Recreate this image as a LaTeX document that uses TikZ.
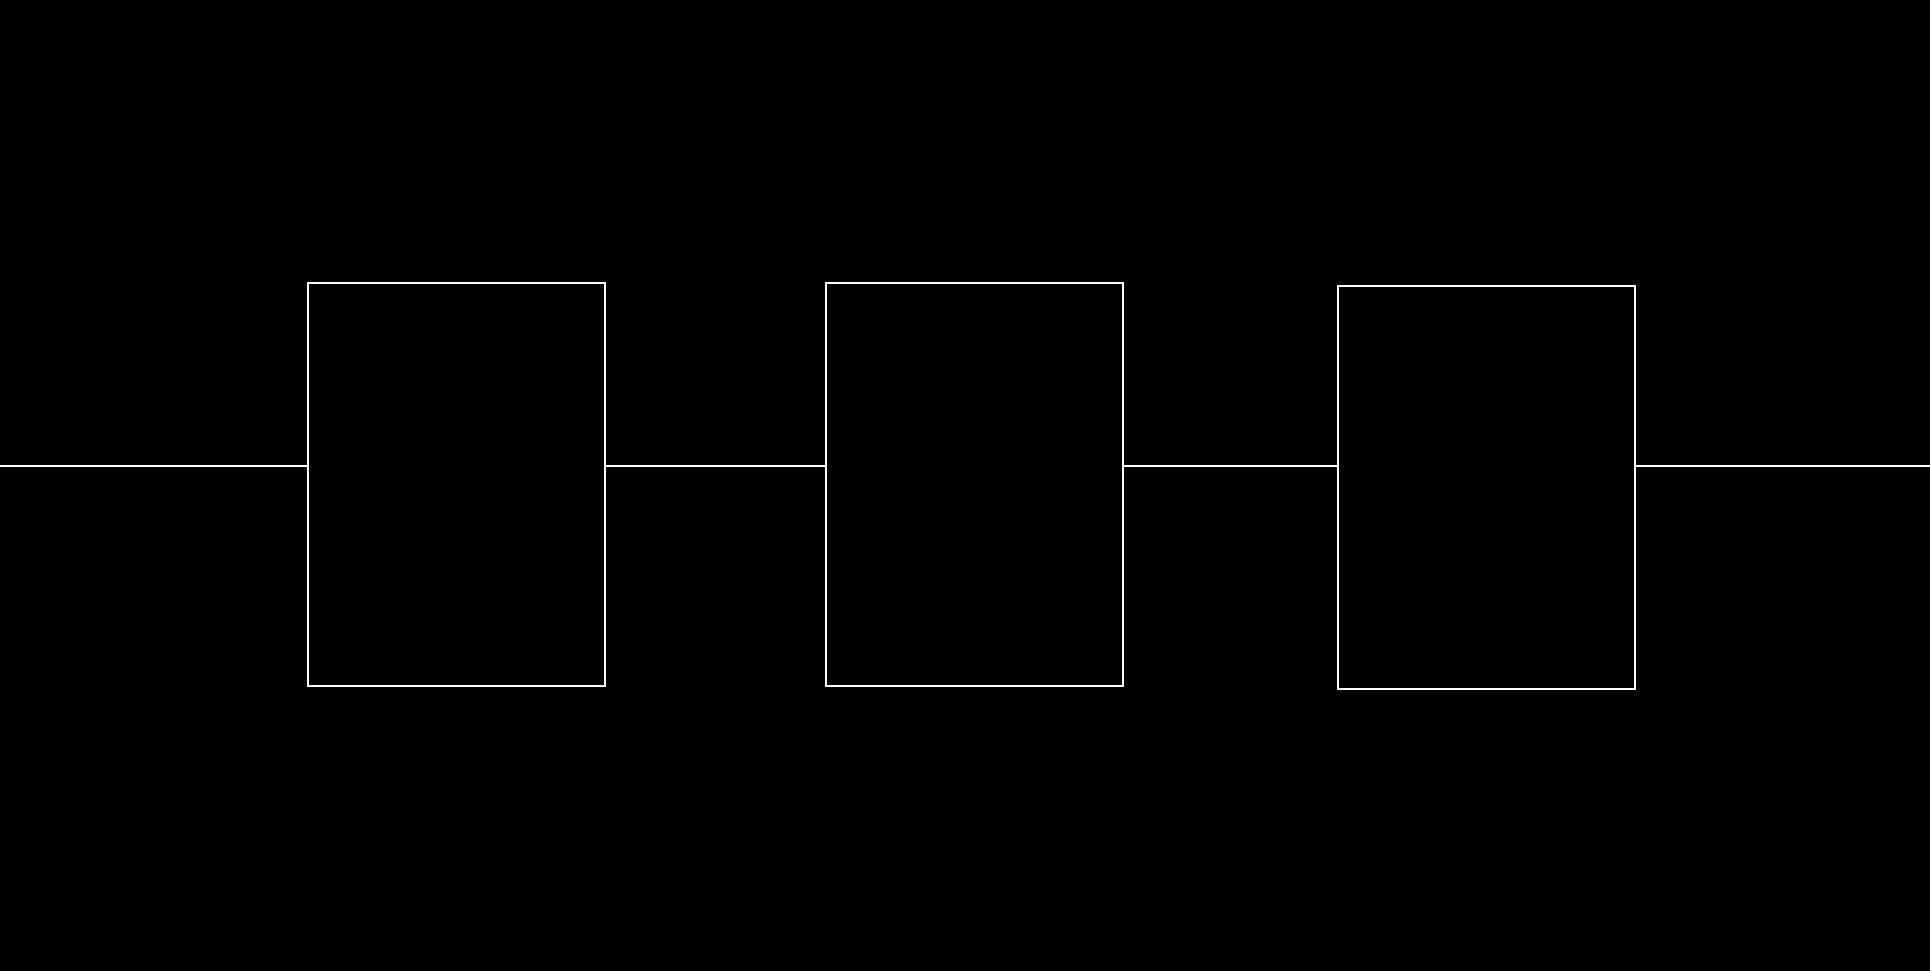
\documentclass[tikz,border=0pt]{standalone}
\usetikzlibrary{positioning,calc}

\begin{document}
\begin{tikzpicture}[
    stage/.style={draw=white, fill=black, line width=0.04cm, minimum width=5.95cm, minimum height=8.06cm, inner sep=0pt},
    wire/.style={draw=white, line width=0.04cm}
  ]
    % Fundo
    \useasboundingbox (0,0) rectangle (38.6,19.4);
    \fill[black] (-0.2,-0.2) rectangle (38.8,19.6);

    % Blocos
    \node[stage] (stageA) at (9.13,9.71) {};
    \node[stage] (stageB) at (19.49,9.71) {};
    \node[stage] (stageC) at (29.73,9.65) {};

    % Extremidades livres
    \coordinate (inPort) at (0,10.07);
    \coordinate (outPort) at (38.6,10.07);

    % Conectores
    \draw[wire] (inPort) -- (inPort -| stageA.west);
    \draw[wire] (stageA.east |- inPort) -- (stageB.west |- inPort);
    \draw[wire] (stageB.east |- inPort) -- (stageC.west |- inPort);
    \draw[wire] (stageC.east |- inPort) -- (outPort);
  \end{tikzpicture}
\end{document}
